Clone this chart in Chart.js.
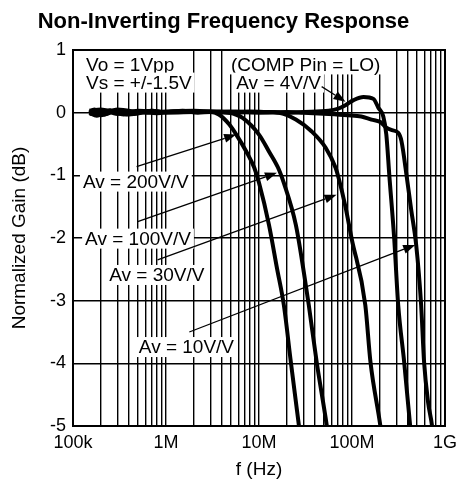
<!DOCTYPE html>
<html>
<head>
<meta charset="utf-8">
<script src="https://cdn.jsdelivr.net/npm/chart.js@4.4.1/dist/chart.umd.min.js"></script>
<style>
  html, body { margin: 0; padding: 0; background: #fff; }
  #wrap { width: 463px; height: 484px; }
</style>
</head>
<body>
<div id="wrap"><canvas id="chart" width="463" height="484"></canvas></div>
<script>
// axis ticks
const decadeValues = [1e5, 1e6, 1e7, 1e8, 1e9];
const decadeLabels = ['100k', '1M', '10M', '100M', '1G'];
const gainTicks = [1, 0, -1, -2, -3, -4, -5];

// curves: frequency (Hz) and normalized gain (dB)
const freqAv200 = [1.5e5, 1.7e5, 2.2e5, 3e5, 4.5e5, 7e5, 1e6, 1.5e6, 2.2e6, 3e6, 3.7e6, 4.8e6, 5.7e6, 7.3e6, 8.9e6, 1.0e7, 1.28e7, 1.56e7, 1.85e7, 2.2e7, 2.68e7, 2.8e7];
const gainAv200 = [0, 0.05, -0.03, 0.04, -0.02, 0.03, 0.01, 0.03, 0, 0.01, -0.03, -0.19, -0.35, -0.62, -0.88, -1.12, -1.79, -2.48, -3.07, -3.98, -4.98, -5.2];

const freqAv100 = [1.5e5, 1.8e5, 2.5e5, 3.5e5, 5e5, 8e5, 1.2e6, 2e6, 3e6, 4.8e6, 6.6e6, 1.0e7, 1.28e7, 1.64e7, 1.85e7, 2.49e7, 3.03e7, 3.43e7, 4.17e7, 5.34e7, 5.6e7];
const gainAv100 = [0, -0.05, 0.03, -0.03, 0.02, -0.01, 0.02, 0.01, 0.02, 0, -0.08, -0.35, -0.62, -0.91, -1.12, -1.79, -2.54, -3.07, -3.98, -4.98, -5.2];

const freqAv30 = [1.5e5, 2e5, 3e5, 6e5, 1e6, 2e6, 4e6, 8e6, 1.2e7, 1.64e7, 2.49e7, 3.69e7, 5.21e7, 6.66e7, 7.17e7, 8.5e7, 9.88e7, 1.39e8, 1.58e8, 2.02e8, 2.1e8];
const gainAv30 = [0.02, -0.04, 0.05, 0, 0.02, 0.03, 0.01, 0.02, 0.01, 0, -0.11, -0.30, -0.56, -0.88, -1.04, -1.5, -2.0, -3.07, -3.98, -5.0, -5.2];

const freqAv10 = [1.5e5, 2.5e5, 4e5, 7e5, 1e6, 2e6, 5e6, 1e7, 2e7, 3e7, 5.6e7, 9e7, 1.26e8, 1.62e8, 2.02e8, 2.34e8, 2.7e8, 3.14e8, 3.4e8, 3.9e8, 4.33e8, 4.9e8, 5.54e8, 5.96e8, 6.58e8, 7.26e8, 7.6e8];
const gainAv10 = [-0.02, 0.04, -0.03, 0.03, 0, 0.01, 0.02, 0, 0.01, 0, -0.02, -0.04, -0.06, -0.11, -0.15, -0.24, -0.28, -0.32, -0.45, -1.05, -1.55, -2.11, -3.07, -3.98, -4.62, -5.0, -5.3];

const freqAv4 = [1.5e5, 2e5, 3e5, 5e5, 1e6, 2e6, 5e6, 1e7, 2e7, 3e7, 5.6e7, 7e7, 8.5e7, 1.04e8, 1.33e8, 1.7e8, 1.92e8, 2.17e8, 2.34e8, 2.52e8, 2.85e8, 3.14e8, 3.64e8, 4.22e8, 4.4e8];
const gainAv4 = [0.03, 0.05, -0.02, 0.03, 0.01, 0.02, 0, 0.01, 0, 0.01, 0.03, 0.06, 0.12, 0.2, 0.25, 0.22, 0.08, -0.06, -0.35, -1.0, -2.03, -3.07, -3.98, -5.0, -5.3];

// text notes (left edge freq, center gain) and arrows (tail -> head)
const notes = [
  { text: 'Vo = 1Vpp', f: 1.38e5, g: 0.77, padTop: 8 },
  { text: 'Vs = +/-1.5V', f: 1.38e5, g: 0.48 },
  { text: '(COMP Pin = LO)', f: 5.0e6, g: 0.77, padTop: 8 },
  { text: 'Av = 4V/V', f: 5.7e6, g: 0.48 },
  { text: 'Av = 200V/V', f: 1.28e5, g: -1.10 },
  { text: 'Av = 100V/V', f: 1.35e5, g: -2.01 },
  { text: 'Av = 30V/V', f: 2.45e5, g: -2.59 },
  { text: 'Av = 10V/V', f: 5.1e5, g: -3.74 }
];
const arrows = [
  { from: [4.83e5, -0.86], to: [5.68e6, -0.35] },
  { from: [4.96e5, -1.74], to: [1.56e7, -0.96] },
  { from: [8.11e5, -2.35], to: [6.82e7, -1.31] },
  { from: [1.78e6, -3.50], to: [4.78e8, -2.11] },
  { from: [4.72e7, 0.415], to: [8.52e7, 0.176] }
];

// grid at 1..9 x each decade
const gridValues = [];
decadeValues.forEach((d, i) => {
  if (i === decadeValues.length - 1) { gridValues.push(d); return; }
  for (let k = 1; k <= 9; k++) gridValues.push(d * k);
});

const FONT = '"Liberation Sans", Arial, Helvetica, sans-serif';
Chart.defaults.font.family = FONT;
Chart.defaults.color = '#000';

function toPoints(fs, gs) {
  return fs.map((f, i) => ({ x: f, y: gs[i] }));
}

const notesPlugin = {
  id: 'notes',
  beforeDatasetsDraw(chart) {
    const { ctx, chartArea, scales: { x, y } } = chart;
    ctx.save();
    ctx.beginPath();
    ctx.rect(chartArea.left + 1, chartArea.top + 1, chartArea.right - chartArea.left - 2, chartArea.bottom - chartArea.top - 2);
    ctx.clip();
    ctx.font = '19px ' + FONT;
    ctx.textBaseline = 'middle';
    notes.forEach(n => {
      const px = x.getPixelForValue(n.f);
      const py = y.getPixelForValue(n.g);
      const w = ctx.measureText(n.text).width;
      const top = n.padTop || 0;
      ctx.fillStyle = '#fff';
      ctx.fillRect(px - 3, py - 10 - top, w + 6, 20 + top);
      ctx.fillStyle = '#000';
      ctx.fillText(n.text, px, py + 1);
    });
    ctx.restore();
  },
  afterDatasetsDraw(chart) {
    const { ctx, chartArea, scales: { x, y } } = chart;
    ctx.save();
    ctx.strokeStyle = '#000';
    ctx.fillStyle = '#000';
    ctx.lineWidth = 1.3;
    arrows.forEach(a => {
      const x1 = x.getPixelForValue(a.from[0]), y1 = y.getPixelForValue(a.from[1]);
      const x2 = x.getPixelForValue(a.to[0]), y2 = y.getPixelForValue(a.to[1]);
      const ang = Math.atan2(y2 - y1, x2 - x1);
      const len = 12, half = 4.5;
      const bx = x2 - len * Math.cos(ang), by = y2 - len * Math.sin(ang);
      ctx.beginPath();
      ctx.moveTo(x1, y1);
      ctx.lineTo(bx, by);
      ctx.stroke();
      ctx.beginPath();
      ctx.moveTo(x2, y2);
      ctx.lineTo(bx + half * Math.sin(ang), by - half * Math.cos(ang));
      ctx.lineTo(bx - half * Math.sin(ang), by + half * Math.cos(ang));
      ctx.closePath();
      ctx.fill();
    });
    // plot frame
    ctx.lineWidth = 2;
    ctx.strokeRect(chartArea.left, chartArea.top, chartArea.right - chartArea.left, chartArea.bottom - chartArea.top);
    ctx.restore();
  }
};

const lineStyle = {
  borderColor: '#000',
  borderWidth: 4,
  pointRadius: 0,
  cubicInterpolationMode: 'monotone',
  clip: 0
};

new Chart(document.getElementById('chart'), {
  type: 'line',
  data: {
    datasets: [
      { label: 'Av = 200V/V', data: toPoints(freqAv200, gainAv200), ...lineStyle },
      { label: 'Av = 100V/V', data: toPoints(freqAv100, gainAv100), ...lineStyle },
      { label: 'Av = 30V/V', data: toPoints(freqAv30, gainAv30), ...lineStyle },
      { label: 'Av = 10V/V', data: toPoints(freqAv10, gainAv10), ...lineStyle },
      { label: 'Av = 4V/V', data: toPoints(freqAv4, gainAv4), ...lineStyle }
    ]
  },
  options: {
    responsive: false,
    animation: false,
    layout: { padding: { right: 16 } },
    plugins: {
      legend: { display: false },
      tooltip: { enabled: false },
      title: {
        display: true,
        text: 'Non-Inverting Frequency Response',
        color: '#000',
        font: { size: 22, weight: 'bold' },
        padding: { top: 9, bottom: 14.6 }
      }
    },
    scales: {
      x: {
        type: 'logarithmic',
        min: 1e5,
        max: 1e9,
        afterBuildTicks: s => { s.ticks = gridValues.map(v => ({ value: v })); },
        afterFit: s => { s.height = 58; },
        ticks: {
          autoSkip: false,
          maxRotation: 0,
          padding: 6,
          font: { size: 18 },
          callback: v => {
            const i = decadeValues.indexOf(v);
            return i >= 0 ? decadeLabels[i] : '';
          }
        },
        grid: { color: '#000', lineWidth: 1.4, drawTicks: false },
        border: { color: '#000', width: 2 },
        title: { display: true, text: 'f (Hz)', font: { size: 19 }, padding: { top: 0, bottom: 3 } }
      },
      y: {
        min: -5,
        max: 1,
        afterBuildTicks: s => { s.ticks = gainTicks.map(v => ({ value: v })); },
        afterFit: s => { s.width = 73; },
        ticks: { padding: 7, font: { size: 18 } },
        grid: { color: '#000', lineWidth: 1.4, drawTicks: false },
        border: { color: '#000', width: 2 },
        title: { display: true, text: 'Normalized Gain (dB)', font: { size: 19 }, padding: { top: 8, bottom: 0 } }
      }
    }
  },
  plugins: [notesPlugin]
});
</script>
</body>
</html>
